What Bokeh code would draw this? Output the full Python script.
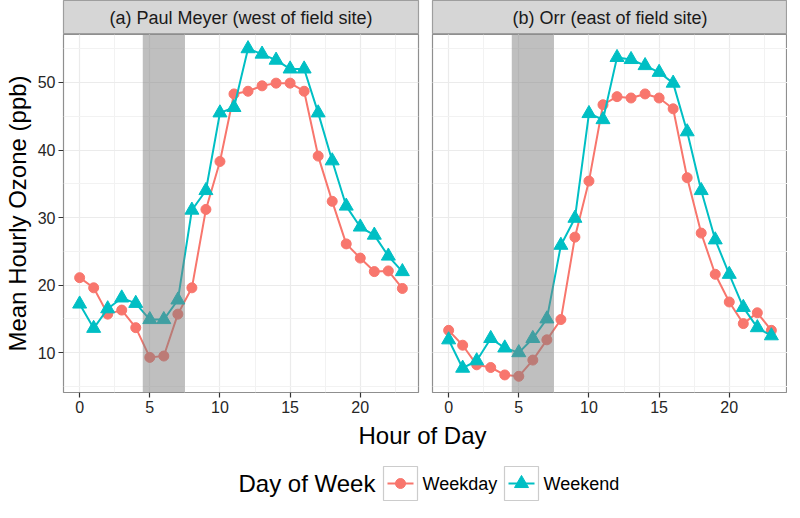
from bokeh.plotting import figure
from bokeh.layouts import column, row
from bokeh.models import Range1d, SingleIntervalTicker, BoxAnnotation, ColumnDataSource
from bokeh.core.properties import value
from bokeh.embed import file_html
from bokeh.resources import INLINE

# ---------------- data ----------------
hours = list(range(24))
paul_weekday = [21.1, 19.6, 15.7, 16.3, 13.7, 9.3, 9.5, 15.7, 19.6, 31.2, 38.3, 48.3,
                48.7, 49.5, 49.9, 49.9, 48.7, 39.1, 32.4, 26.1, 24.0, 22.0, 22.1, 19.5]
paul_weekend = [17.2, 13.6, 16.5, 18.1, 17.3, 14.9, 14.9, 17.8, 31.1, 34.0, 45.5, 46.3,
                55.0, 54.2, 53.3, 52.0, 52.0, 45.5, 38.4, 31.7, 28.6, 27.4, 24.3, 22.0]
orr_weekday = [13.3, 11.1, 8.2, 7.8, 6.7, 6.5, 8.9, 11.9, 14.9, 27.1, 35.4, 46.7,
               47.9, 47.7, 48.3, 47.7, 46.1, 35.9, 27.7, 21.6, 17.5, 14.3, 15.9, 13.3]
orr_weekend = [11.9, 7.7, 8.8, 12.1, 10.7, 10.0, 12.1, 15.0, 25.9, 29.9, 45.4, 44.5,
               53.7, 53.4, 52.5, 51.5, 49.9, 42.7, 34.0, 26.7, 21.6, 16.7, 13.7, 12.5]
panel_titles = ["(a) Paul Meyer (west of field site)", "(b) Orr (east of field site)"]
series_names = ["Weekday", "Weekend"]
shade_start, shade_end = 4.5, 7.5
x_lo, x_hi = -1.15, 24.15
y_lo, y_hi = 4.1, 57.1

COL_WD = "#F8766D"
COL_WE = "#00BFC4"
FONT = "Liberation Sans"

FRAME_W = 355
FRAME_H = 358
STRIP_H = 34
LEFT_B = 60
GAP_L, GAP_R = 8, 6


def make_panel(wd, we, left_border, right_border, show_y):
    p = figure(frame_width=FRAME_W, frame_height=FRAME_H,
               x_range=Range1d(x_lo, x_hi), y_range=Range1d(y_lo, y_hi),
               output_backend="svg", toolbar_location=None,
               y_axis_location="left" if show_y else None,
               min_border_left=left_border, min_border_right=right_border,
               min_border_top=0, min_border_bottom=26)
    p.outline_line_color = "#8F8F8F"
    p.outline_line_width = 1.2
    p.background_fill_color = "white"
    xt = SingleIntervalTicker(interval=5, num_minor_ticks=2)
    yt = SingleIntervalTicker(interval=10, num_minor_ticks=2)
    p.xaxis.ticker = xt
    p.xgrid.ticker = xt
    p.ygrid.ticker = yt
    for g in (p.xgrid, p.ygrid):
        g.grid_line_color = "#EBEBEB"
        g.grid_line_width = 1.2
        g.minor_grid_line_color = "#F2F2F2"
        g.minor_grid_line_width = 1
    axes = [p.xaxis[0]]
    if show_y:
        p.yaxis.ticker = yt
        axes.append(p.yaxis[0])
        p.yaxis.axis_label = "Mean Hourly Ozone (ppb)"
        p.yaxis.axis_label_text_font = FONT
        p.yaxis.axis_label_text_font_size = "24px"
        p.yaxis.axis_label_text_font_style = "normal"
        p.yaxis.axis_label_text_color = "#000000"
        p.yaxis.axis_label_standoff = 4
    for ax in axes:
        ax.axis_line_color = None
        ax.major_tick_line_color = "#333333"
        ax.major_tick_line_width = 1.2
        ax.major_tick_out = 5
        ax.major_tick_in = 0
        ax.minor_tick_line_color = None
        ax.major_label_text_font = FONT
        ax.major_label_text_font_size = "16px"
        ax.major_label_text_color = "#262626"
        ax.major_label_standoff = 3

    src_wd = ColumnDataSource(dict(x=hours, y=wd))
    src_we = ColumnDataSource(dict(x=hours, y=we))
    p.line("x", "y", source=src_wd, line_color=COL_WD, line_width=2)
    p.scatter("x", "y", source=src_wd, marker="circle", size=10,
              fill_color=COL_WD, line_color=COL_WD)
    p.line("x", "y", source=src_we, line_color=COL_WE, line_width=2)
    p.scatter("x", "y", source=src_we, marker="triangle", size=14,
              fill_color=COL_WE, line_color=COL_WE)

    p.add_layout(BoxAnnotation(left=shade_start, right=shade_end,
                               fill_color="#808080", fill_alpha=0.5, line_color=None))
    return p


def make_strip(title, left_border, right_border):
    s = figure(frame_width=FRAME_W, frame_height=STRIP_H,
               x_range=Range1d(0, 1), y_range=Range1d(0, 1),
               output_backend="svg", toolbar_location=None,
               x_axis_location=None, y_axis_location=None,
               min_border_left=left_border, min_border_right=right_border,
               min_border_top=0, min_border_bottom=0)
    s.grid.visible = False
    s.background_fill_color = "#D6D6D6"
    s.outline_line_color = "#9E9E9E"
    s.outline_line_width = 1.2
    s.text(x=[0.5], y=[0.5], text=[title], text_align="center",
           text_baseline="middle", text_font=value(FONT),
           text_font_size="18px", text_color="#1A1A1A")
    return s


p1 = make_panel(paul_weekday, paul_weekend, LEFT_B, GAP_L, True)
p2 = make_panel(orr_weekday, orr_weekend, GAP_R, 0, False)
s1 = make_strip(panel_titles[0], LEFT_B, GAP_L)
s2 = make_strip(panel_titles[1], GAP_R, 0)

# ---------------- bottom: x-axis title and legend ----------------
BW, BH = 784, 84
b = figure(frame_width=BW, frame_height=BH, x_range=Range1d(0, BW), y_range=Range1d(BH, 0),
           output_backend="svg", toolbar_location=None,
           x_axis_location=None, y_axis_location=None,
           min_border=0)
b.grid.visible = False
b.outline_line_color = None

center_x = (LEFT_B + BW) / 2
b.text(x=[center_x], y=[17], text=["Hour of Day"], text_align="center",
       text_baseline="middle", text_font=value(FONT), text_font_size="24px",
       text_color="#000000")

leg_y = 65
b.text(x=[238], y=[leg_y], text=["Day of Week"], text_align="left",
       text_baseline="middle", text_font=value(FONT), text_font_size="24px",
       text_color="#000000")
key_x = [383, 504]
key_size = 34
b.rect(x=[k + key_size / 2 for k in key_x], y=[leg_y, leg_y], width=key_size,
       height=key_size, fill_color="white", line_color="#CCCCCC", line_width=1.2)
for k, col, mk, sz in zip(key_x, [COL_WD, COL_WE], ["circle", "triangle"], [10, 14]):
    b.segment(x0=[k + 4], y0=[leg_y], x1=[k + key_size - 4], y1=[leg_y],
              line_color=col, line_width=2)
    b.scatter(x=[k + key_size / 2], y=[leg_y], marker=mk, size=sz,
              fill_color=col, line_color=col)
b.text(x=[k + key_size + 5 for k in key_x], y=[leg_y, leg_y], text=series_names,
       text_align="left", text_baseline="middle", text_font=value(FONT),
       text_font_size="18px", text_color="#000000")

layout = column(row(column(s1, p1), column(s2, p2)), b)

with open("out.html", "w") as f:
    f.write(file_html(layout, INLINE))
